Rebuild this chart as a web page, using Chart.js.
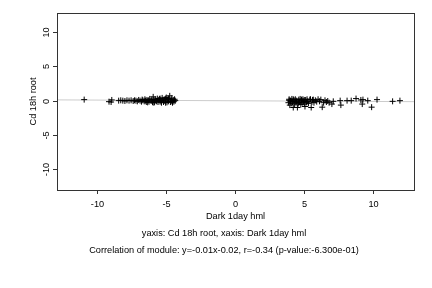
<!DOCTYPE html>
<html>
<head>
<meta charset="utf-8">
<script src="https://cdn.jsdelivr.net/npm/chart.js@4"></script>
<style>
  body { margin: 0; background: #fff; }
</style>
</head>
<body>
<canvas id="scatter_chart" width="432" height="288"></canvas>
<script>
const darkX = [
  -10.95, -9.15, -9.0, -8.95, -8.45, -8.3, -8.15, -8.0, -7.85, -7.7,
  -7.55, -7.4, -7.3, -7.2, -7.1, -7.0, -6.9, -6.8, -6.75, -6.7,
  -6.6, -6.55, -6.5, -6.45, -6.4, -6.3, -6.25, -6.2, -6.1, -6.05,
  -6.0, -5.95, -5.9, -5.85, -5.8, -5.75, -5.7, -5.65, -5.6, -5.55,
  -5.5, -5.45, -5.4, -5.35, -5.3, -5.25, -5.2, -5.15, -5.1, -5.05,
  -5.0, -4.95, -4.9, -4.85, -4.8, -4.75, -4.7, -4.65, -4.6, -4.55,
  -4.5, -4.45, -4.4, -4.35, -6.35, -5.95, -5.45, -5.05, -4.85, -4.6,
  3.85, 3.9, 3.95, 4.0, 4.05, 4.1, 4.15, 4.2, 4.25, 4.3,
  4.35, 4.4, 4.45, 4.5, 4.55, 4.6, 4.65, 4.7, 4.75, 4.8,
  4.85, 4.9, 4.95, 5.0, 5.05, 5.1, 5.15, 5.2, 5.3, 5.4,
  5.5, 5.55, 5.6, 5.7, 5.8, 5.9, 6.0, 6.1, 6.2, 6.3,
  6.4, 6.5, 6.6, 6.7, 6.8, 7.0, 7.1, 7.6, 7.65, 8.1,
  8.4, 8.75, 9.1, 9.2, 9.25, 9.6, 9.88, 10.27, 11.4, 11.93,
  3.9, 4.0, 4.2, 4.4, 4.6, 4.8, 5.0, 5.25, 5.45, 5.65
];
const cdY = [
  0.15, -0.15, -0.2, 0.1, 0.0, 0.05, 0.0, -0.05, 0.05, 0.0,
  0.05, -0.05, 0.05, 0.0, -0.1, 0.1, 0.0, -0.15, 0.15, 0.05,
  -0.1, 0.2, 0.0, -0.2, 0.1, 0.05, -0.15, 0.25, -0.05, 0.15,
  -0.2, 0.55, 0.1, -0.25, 0.2, 0.0, -0.1, 0.3, -0.2, 0.1,
  0.25, -0.15, 0.05, -0.3, 0.4, 0.1, -0.2, 0.2, -0.05, 0.3,
  0.45, -0.25, 0.15, -0.1, 0.25, 0.7, -0.2, 0.1, 0.35, -0.3,
  0.1, -0.15, 0.2, 0.0, -0.25, -0.3, 0.3, -0.3, 0.3, -0.1,
  -0.3, 0.2, -0.65, 0.0, -0.4, 0.25, -0.2, -1.0, 0.1, -0.5,
  0.2, -0.3, 0.0, -1.0, -0.45, 0.15, -0.2, 0.25, -0.55, 0.0,
  -0.3, 0.2, -0.1, -0.5, -0.85, 0.1, -0.25, 0.2, -0.4, 0.15,
  -1.0, -0.2, 0.1, -0.3, 0.05, -0.15, 0.2, -0.1, 0.15, -0.95,
  -0.3, 0.05, -0.2, -0.05, -0.3, -0.5, -0.1, 0.0, -0.65, 0.0,
  0.0, 0.3, 0.1, -0.5, 0.15, 0.0, -0.95, 0.15, -0.1, 0.0,
  0.05, -0.15, 0.2, -0.1, -0.3, 0.15, 0.1, -0.1, 0.2, 0.15
];
const xTicks = [-10, -5, 0, 5, 10];
const yTicks = [-10, -5, 0, 5, 10];
const xRange = [-12.92, 12.95];
const yRange = [-13.0, 12.75];
const fitSlope = -0.01;
const fitIntercept = -0.02;
const xTitle = "Dark 1day hml";
const yTitle = "Cd 18h root";
const subTitle1 = "yaxis: Cd 18h root, xaxis: Dark 1day hml";
const subTitle2 = "Correlation of module: y=-0.01x-0.02, r=-0.34 (p-value:-6.300e-01)";

const points = darkX.map((x, i) => ({ x: x, y: cdY[i] }));
const fitLine = xRange.map(x => ({ x: x, y: fitSlope * x + fitIntercept }));

const FONT = "9.2px 'Liberation Sans', Arial, sans-serif";

// R-style box, ticks and labels drawn from the chart's own scales
const rAxes = {
  id: "rAxes",
  afterDraw(chart) {
    const ctx = chart.ctx;
    const a = chart.chartArea;
    const xs = chart.scales.x;
    const ys = chart.scales.y;
    ctx.save();
    ctx.strokeStyle = "#333";
    ctx.lineWidth = 1;
    ctx.strokeRect(Math.round(a.left) + 0.5, Math.round(a.top) + 0.5,
      Math.round(a.right - a.left), Math.round(a.bottom - a.top));
    ctx.fillStyle = "#000";
    ctx.font = FONT;
    ctx.textAlign = "center";
    ctx.textBaseline = "middle";
    xTicks.forEach(t => {
      const px = Math.round(xs.getPixelForValue(t)) + 0.5;
      ctx.beginPath();
      ctx.moveTo(px, a.bottom);
      ctx.lineTo(px, a.bottom + 4);
      ctx.stroke();
      ctx.fillText(String(t), px, a.bottom + 14);
    });
    yTicks.forEach(t => {
      const py = Math.round(ys.getPixelForValue(t)) + 0.5;
      ctx.beginPath();
      ctx.moveTo(a.left, py);
      ctx.lineTo(a.left - 4, py);
      ctx.stroke();
      ctx.save();
      ctx.translate(a.left - 11, py);
      ctx.rotate(-Math.PI / 2);
      ctx.fillText(String(t), 0, 0);
      ctx.restore();
    });
    ctx.fillText(xTitle, (a.left + a.right) / 2, 216);
    ctx.fillText(subTitle1, 224, 233);
    ctx.fillText(subTitle2, 224, 250);
    ctx.save();
    ctx.translate(33, (a.top + a.bottom) / 2);
    ctx.rotate(-Math.PI / 2);
    ctx.fillText(yTitle, 0, 0);
    ctx.restore();
    ctx.restore();
  }
};

new Chart(document.getElementById("scatter_chart"), {
  type: "scatter",
  data: {
    datasets: [
      {
        type: "line",
        data: fitLine,
        borderColor: "#cccccc",
        borderWidth: 1,
        pointRadius: 0,
        order: 2
      },
      {
        data: points,
        pointStyle: "cross",
        pointRadius: 3,
        borderColor: "#000",
        borderWidth: 1,
        order: 1
      }
    ]
  },
  options: {
    responsive: false,
    animation: false,
    layout: { padding: { left: 57, right: 18, top: 13, bottom: 98 } },
    plugins: {
      legend: { display: false },
      tooltip: { enabled: false }
    },
    scales: {
      x: { type: "linear", min: xRange[0], max: xRange[1], display: false },
      y: { type: "linear", min: yRange[0], max: yRange[1], display: false }
    }
  },
  plugins: [rAxes]
});
</script>
</body>
</html>
